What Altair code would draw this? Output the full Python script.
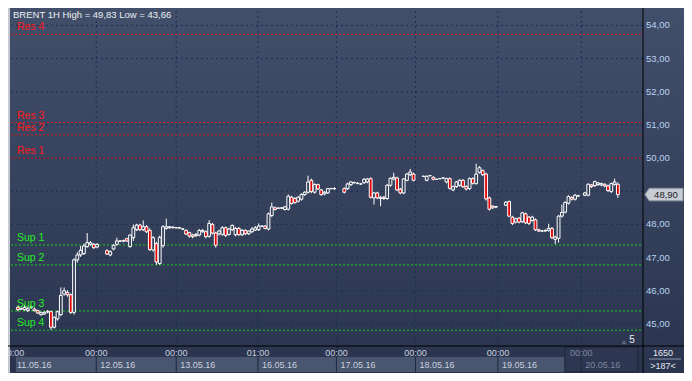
import altair as alt
import pandas as pd

title_text = "BRENT 1H High = 49,83 Low = 43,66"

# hourly bar number (gaps = hours without a bar)
bar_index = (list(range(0, 25)) + list(range(27, 97)) + list(range(99, 121))
             + list(range(123, 146)) + list(range(148, 171)) + list(range(172, 183)))

opens = [
    45.50, 45.45, 45.43, 45.40, 45.50, 45.45, 45.40, 45.28, 45.30, 45.36,
    45.37, 44.90, 45.15, 45.28, 45.90, 45.95, 45.88, 45.35, 46.93, 47.08,
    47.12, 47.33, 47.40, 47.40, 47.32,
    47.21, 47.08, 47.26, 47.40, 47.50, 47.50, 47.57, 47.33, 47.60, 47.84,
    47.98, 47.84, 47.93, 47.82, 47.23, 47.42, 46.82, 47.36, 47.88, 47.90,
    47.92, 47.90, 47.90, 47.86, 47.82, 47.75, 47.68, 47.66, 47.68, 47.78,
    47.78, 47.64, 48.00, 47.74, 47.72, 47.70, 47.90, 47.70, 47.84, 47.69,
    47.88, 47.69, 47.82, 47.72, 47.78, 47.83, 47.84, 47.95, 47.95, 47.86,
    48.27, 48.50, 48.49, 48.49, 48.45, 48.46, 48.82, 48.78, 48.70, 48.76,
    48.90, 48.97, 49.33, 48.97, 49.20, 49.04, 48.92, 48.95, 49.08, 49.08,
    49.08, 49.08, 49.20, 49.26, 49.24, 49.22, 49.26, 49.28, 49.38, 48.80,
    48.95, 48.78, 48.82, 48.78, 49.18, 49.37, 49.40, 49.06, 48.95, 49.33,
    49.50, 49.52,
    49.45, 49.33, 49.47, 49.42, 49.36, 49.38, 49.40, 49.28, 49.38, 49.04,
    49.14, 49.18, 49.33, 49.14, 49.08, 49.38, 49.23, 49.57, 49.62, 49.52,
    48.80, 48.55, 48.52,
    48.58, 48.69, 48.22, 48.07, 48.19, 48.08, 48.32, 48.22, 48.12, 48.14,
    47.84, 47.80, 47.80, 47.82, 47.88, 47.55, 47.58, 48.25, 48.37, 48.64,
    48.81, 48.76, 48.86,
    48.88, 48.88, 49.19, 49.17, 49.20, 49.19, 49.21, 49.16, 48.99, 49.21, 49.21,
]
highs = [
    45.55, 45.50, 45.56, 45.52, 45.55, 45.50, 45.43, 45.38, 45.38, 45.42,
    45.40, 45.22, 45.40, 46.10, 46.10, 46.02, 45.92, 46.98, 47.16, 47.35,
    47.42, 47.74, 47.50, 47.44, 47.44,
    47.25, 47.22, 47.40, 47.60, 47.53, 47.54, 47.60, 47.70, 48.00, 48.02,
    48.02, 48.12, 47.98, 47.88, 47.65, 47.48, 47.66, 47.98, 48.17, 47.95,
    47.94, 47.92, 47.92, 47.89, 47.85, 47.78, 47.72, 47.74, 47.86, 47.86,
    47.82, 48.13, 48.05, 47.78, 47.84, 47.95, 47.94, 47.90, 48.00, 47.92,
    47.92, 47.86, 47.85, 47.82, 47.92, 47.95, 48.03, 47.97, 47.98, 48.36,
    48.66, 48.54, 48.51, 48.51, 48.56, 48.90, 48.86, 48.82, 48.85, 48.94,
    49.00, 49.47, 49.38, 49.24, 49.23, 49.07, 49.00, 49.10, 49.10, 49.12,
    49.12, 49.26, 49.30, 49.29, 49.27, 49.25, 49.40, 49.40, 49.42, 48.98,
    48.99, 48.85, 48.86, 49.22, 49.42, 49.56, 49.44, 49.10, 49.40, 49.55,
    49.67, 49.56,
    49.47, 49.48, 49.49, 49.45, 49.38, 49.40, 49.42, 49.41, 49.42, 49.17,
    49.31, 49.36, 49.37, 49.18, 49.42, 49.42, 49.83, 49.76, 49.66, 49.56,
    48.84, 48.58, 48.55,
    48.70, 48.72, 48.26, 48.20, 48.22, 48.38, 48.36, 48.25, 48.26, 48.18,
    47.87, 47.83, 47.85, 48.02, 47.92, 47.66, 48.28, 48.60, 48.70, 48.88,
    48.85, 48.92, 48.89,
    48.98, 49.24, 49.22, 49.32, 49.28, 49.26, 49.24, 49.20, 49.26, 49.38, 49.26,
]
lows = [
    45.38, 45.42, 45.40, 45.36, 45.45, 45.38, 45.30, 45.25, 45.27, 45.32,
    44.82, 44.86, 45.10, 45.24, 45.85, 45.82, 45.30, 45.28, 46.85, 47.02,
    47.08, 47.30, 47.36, 47.26, 47.28,
    47.08, 47.04, 47.22, 47.36, 47.47, 47.46, 47.47, 47.30, 47.50, 47.80,
    47.80, 47.80, 47.74, 47.20, 47.18, 46.78, 46.78, 47.30, 47.84, 47.87,
    47.88, 47.88, 47.87, 47.83, 47.68, 47.60, 47.58, 47.62, 47.64, 47.75,
    47.58, 47.60, 47.70, 47.30, 47.66, 47.66, 47.62, 47.66, 47.80, 47.64,
    47.66, 47.65, 47.68, 47.68, 47.74, 47.80, 47.80, 47.93, 47.85, 47.82,
    48.22, 48.42, 48.47, 48.47, 48.42, 48.42, 48.60, 48.62, 48.66, 48.72,
    48.86, 48.93, 48.94, 48.93, 49.04, 48.86, 48.88, 48.92, 49.06, 49.04,
    48.93, 49.04, 49.16, 49.23, 49.21, 49.19, 49.22, 49.24, 48.78, 48.60,
    48.76, 48.55, 48.74, 48.74, 49.14, 49.33, 49.00, 48.91, 48.91, 49.30,
    49.46, 49.30,
    49.43, 49.30, 49.45, 49.33, 49.34, 49.36, 49.38, 49.24, 49.05, 49.00,
    49.10, 49.14, 49.10, 49.02, 49.04, 49.20, 49.20, 49.53, 49.46, 48.72,
    48.42, 48.47, 48.49,
    48.55, 48.22, 47.98, 48.03, 48.03, 48.05, 48.01, 47.98, 48.08, 47.80,
    47.77, 47.77, 47.78, 47.78, 47.56, 47.40, 47.45, 48.21, 48.33, 48.60,
    48.72, 48.72, 48.84,
    48.85, 48.85, 49.10, 49.13, 49.16, 49.15, 49.12, 48.98, 48.95, 49.17, 48.80,
]
closes = [
    45.43, 45.46, 45.50, 45.46, 45.52, 45.40, 45.33, 45.34, 45.35, 45.38,
    44.90, 45.20, 45.37, 45.86, 46.00, 45.88, 45.35, 46.93, 47.08, 47.22,
    47.35, 47.45, 47.45, 47.30, 47.40,
    47.11, 47.18, 47.37, 47.50, 47.50, 47.51, 47.50, 47.68, 47.90, 47.98,
    47.84, 47.93, 47.78, 47.24, 47.60, 46.87, 47.61, 47.93, 47.93, 47.93,
    47.90, 47.90, 47.89, 47.86, 47.71, 47.65, 47.63, 47.70, 47.82, 47.82,
    47.63, 48.03, 47.74, 47.37, 47.80, 47.90, 47.67, 47.86, 47.97, 47.88,
    47.69, 47.82, 47.72, 47.80, 47.86, 47.90, 47.95, 47.95, 47.88, 48.32,
    48.53, 48.45, 48.49, 48.50, 48.53, 48.85, 48.63, 48.66, 48.82, 48.90,
    48.97, 49.28, 48.99, 49.20, 49.07, 48.90, 48.97, 49.08, 49.08, 49.08,
    48.97, 49.22, 49.28, 49.26, 49.24, 49.22, 49.36, 49.37, 48.82, 48.95,
    48.80, 48.82, 48.78, 49.18, 49.39, 49.42, 49.04, 48.95, 49.37, 49.52,
    49.58, 49.33,
    49.45, 49.45, 49.47, 49.36, 49.36, 49.38, 49.40, 49.38, 49.09, 49.14,
    49.28, 49.33, 49.14, 49.07, 49.38, 49.24, 49.52, 49.71, 49.50, 48.77,
    48.46, 48.50, 48.54,
    48.67, 48.25, 48.03, 48.17, 48.07, 48.35, 48.05, 48.03, 48.22, 47.84,
    47.80, 47.80, 47.82, 47.88, 47.60, 47.62, 48.25, 48.36, 48.66, 48.84,
    48.76, 48.88, 48.86,
    48.95, 49.21, 49.14, 49.29, 49.25, 49.23, 49.16, 49.02, 49.23, 49.28, 48.90,
]
assert len(bar_index) == len(opens) == len(highs) == len(lows) == len(closes)

res_names = ["Res 4", "Res 3", "Res 2", "Res 1"]
res_levels = [53.73, 51.07, 50.70, 50.00]
sup_names = ["Sup 1", "Sup 2", "Sup 3", "Sup 4"]
sup_levels = [47.38, 46.78, 45.39, 44.81]

grid_prices = [45, 46, 47, 48, 49, 50, 51, 52, 53, 54]
label_prices = [45, 46, 47, 48, 50, 51, 52, 53, 54]

day_dates = ["11.05.16", "12.05.16", "13.05.16", "16.05.16",
             "17.05.16", "18.05.16", "19.05.16", "20.05.16"]
day_times = ["00:00", "00:00", "00:00", "01:00", "00:00", "00:00", "00:00", "00:00"]
day_start_bar = [-1.5, 23.75, 48.0, 72.8, 96.6, 120.6, 145.6, 170.9]

last_price = 48.90
last_price_text = "48,90"
bars_total_text = "1650"
bars_visible_text = ">187<"
marker_text = "5"

# ---------------------------------------------------------------- layout
W, H = 632, 335
PL, PT, PR, PB = 3, 3, 41, 27
X_DOM = [-0.6, 188.1]
Y_DOM = [44.335, 54.434]
FONT = "Liberation Sans"

xs = alt.Scale(domain=X_DOM, nice=False, zero=False)
ys = alt.Scale(domain=Y_DOM, nice=False, zero=False)


def X(f):
    return alt.X(f, type="quantitative", scale=xs, axis=None)


def Y(f):
    return alt.Y(f, type="quantitative", scale=ys, axis=None)


one = alt.Data(values=[{"k": 0}])

bg_grad = alt.LinearGradient(
    gradient="linear",
    stops=[alt.GradientStop(color="#424f6b", offset=0),
           alt.GradientStop(color="#2a344e", offset=1)],
    x1=0, x2=0, y1=0, y2=1)

bg = alt.Chart(one).mark_rect(color=bg_grad).encode(
    x=alt.value(-PL), x2=alt.value(W + PR), y=alt.value(-PT), y2=alt.value(H + PB))
border = alt.Chart(one).mark_rect(color="#c4c9d1").encode(
    x=alt.value(-PL), x2=alt.value(-1), y=alt.value(-PT), y2=alt.value(H + PB))

days = pd.DataFrame({"date": day_dates, "time": day_times, "start": day_start_bar})
days["end"] = day_start_bar[1:] + [X_DOM[1]]
days["band_start"] = days["start"].clip(lower=X_DOM[0])
days["last"] = [i == len(day_dates) - 1 for i in range(len(day_dates))]

band = alt.Chart(days).mark_rect(color="#4a5670").encode(
    x=X("band_start"), x2=alt.X2("end"), y=alt.value(H + 11), y2=alt.value(H + PB - 1))
highlight = alt.Chart(days).transform_filter("datum.last").transform_calculate(
    hl="datum.start - 5").mark_rect(color="#2d3751", stroke="#1d2538", strokeWidth=1).encode(
    x=X("hl"), x2=alt.X2("end"), y=alt.value(H + 1), y2=alt.value(H + PB - 1))
separators = alt.Chart(days).transform_filter(f"datum.start >= {X_DOM[0]}").mark_rule(
    color="#1e2942", strokeWidth=1).encode(x=X("start"), y=alt.value(H), y2=alt.value(H + PB))
time_txt = alt.Chart(days).mark_text(font=FONT, fontSize=9, align="center", baseline="middle").encode(
    x=X("start"), y=alt.value(H + 7), text="time:N",
    color=alt.condition("datum.last", alt.value("#7d889d"), alt.value("#c9d1df")))
date_txt = alt.Chart(days).mark_text(font=FONT, fontSize=9, align="left", baseline="middle", dx=4).encode(
    x=X("start"), y=alt.value(H + 18.5), text="date:N",
    color=alt.condition("datum.last", alt.value("#7d889d"), alt.value("#c9d1df")))

vgrid = alt.Chart(days).transform_filter("datum.start >= 0").mark_rule(
    color="#1b2f56", strokeDash=[2, 3], strokeWidth=1).encode(
    x=X("start"), y=alt.value(0), y2=alt.value(H))
hgrid = alt.Chart(pd.DataFrame({"p": grid_prices})).mark_rule(
    color="#1b2f56", strokeDash=[2, 3], strokeWidth=1).encode(
    y=Y("p"), x=alt.value(0), x2=alt.value(W))

res_df = pd.DataFrame({"name": res_names, "level": res_levels})
sup_df = pd.DataFrame({"name": sup_names, "level": sup_levels})
res_lines = alt.Chart(res_df).mark_rule(color="#d81818", strokeDash=[2, 2], strokeWidth=1).encode(
    y=Y("level"), x=alt.value(0), x2=alt.value(W))
sup_lines = alt.Chart(sup_df).mark_rule(color="#12d012", strokeDash=[2, 2], strokeWidth=1).encode(
    y=Y("level"), x=alt.value(0), x2=alt.value(W))
res_text = alt.Chart(res_df).mark_text(font=FONT, fontSize=10.5, color="#ff1a1a", align="left",
                                       baseline="middle", dy=-7).encode(
    y=Y("level"), x=alt.value(6), text="name:N")
sup_text = alt.Chart(sup_df).mark_text(font=FONT, fontSize=10.5, color="#22ee22", align="left",
                                       baseline="middle", dy=-7).encode(
    y=Y("level"), x=alt.value(6), text="name:N")

candles = pd.DataFrame({"i": bar_index, "o": opens, "h": highs, "l": lows, "c": closes})
wicks = alt.Chart(candles).mark_rule(color="#ffffff", strokeWidth=1).encode(
    x=X("i"), y=Y("l"), y2=alt.Y2("h"))
bodies = alt.Chart(candles).mark_bar(size=2.8, stroke="#ffffff", strokeWidth=1).encode(
    x=X("i"), y=Y("o"), y2=alt.Y2("c"),
    fill=alt.condition("datum.c >= datum.o", alt.value("#323d58"), alt.value("#e00000")))

vline = alt.Chart(one).mark_rule(color="#000000", strokeWidth=1).encode(
    x=alt.value(W), y=alt.value(-PT), y2=alt.value(H + PB))
hline = alt.Chart(one).mark_rule(color="#000000", strokeWidth=1).encode(
    y=alt.value(H), x=alt.value(-PL), x2=alt.value(W + PR))

lab_df = pd.DataFrame({"p": label_prices,
                       "txt": [f"{p:.2f}".replace(".", ",") for p in label_prices]})
ylabels = alt.Chart(lab_df).mark_text(font=FONT, fontSize=9.5, color="#b8d2f2", align="left",
                                      baseline="middle").encode(
    x=alt.value(W + 3), y=Y("p"), text="txt:N")

tag_df = pd.DataFrame({"p": [last_price], "txt": [last_price_text]})
tag_shape = alt.Chart(tag_df).mark_point(
    shape="M -1 0 L -0.78 -0.33 L 1 -0.33 L 1 0.33 L -0.78 0.33 Z", size=1444,
    filled=True, color="#c8ccd4", stroke="#8e95a1", strokeWidth=1, opacity=1).encode(
    x=alt.value(W + 21), y=Y("p"))
tag_text = alt.Chart(tag_df).mark_text(font=FONT, fontSize=9.5, color="#1c1c1c", align="center",
                                       baseline="middle").encode(
    x=alt.value(W + 23), y=Y("p"), text="txt:N")

corner_top = alt.Chart(one).mark_text(font=FONT, fontSize=9, color="#e6e9ee", align="center",
                                      baseline="middle", text=bars_total_text).encode(
    x=alt.value(W + 20), y=alt.value(H + 7))
corner_rule = alt.Chart(one).mark_rule(color="#8b95a7", strokeWidth=1).encode(
    x=alt.value(W + 6), x2=alt.value(W + 38), y=alt.value(H + 13))
corner_bot = alt.Chart(one).mark_text(font=FONT, fontSize=9, color="#e6e9ee", align="center",
                                      baseline="middle", text=bars_visible_text).encode(
    x=alt.value(W + 20), y=alt.value(H + 20))

marker_tri = alt.Chart(one).mark_point(shape="triangle-up", size=28, filled=True,
                                       color="#5b6679", opacity=1).encode(
    x=alt.value(W - 19), y=alt.value(H - 4))
marker_lab = alt.Chart(one).mark_text(font=FONT, fontSize=10, color="#eef0f4", align="center",
                                      baseline="middle", text=marker_text).encode(
    x=alt.value(W - 11), y=alt.value(H - 6))

title = alt.Chart(one).mark_text(font=FONT, fontSize=9.5, color="#eceef2", align="left",
                                 baseline="middle", text=title_text).encode(
    x=alt.value(2), y=alt.value(4))

chart = alt.layer(
    bg, border, hgrid, vgrid, band, highlight, separators, time_txt, date_txt,
    res_lines, sup_lines, wicks, bodies, res_text, sup_text,
    vline, hline, ylabels, tag_shape, tag_text,
    corner_top, corner_rule, corner_bot, marker_tri, marker_lab, title,
).properties(
    width=W, height=H, background="#2d3750",
    padding={"left": PL, "top": PT, "right": PR, "bottom": PB},
    autosize=alt.AutoSizeParams(type="none"),
).configure_view(stroke=None)

chart.save("out.html", embed_options={"renderer": "svg", "actions": False})
